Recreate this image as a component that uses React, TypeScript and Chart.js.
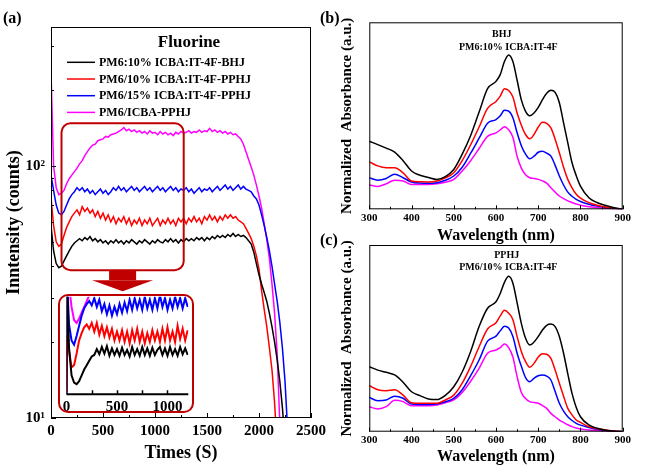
import React, { useEffect, useRef } from 'react';
import { Chart, registerables } from 'chart.js';

Chart.register(...registerables);

const SERIF = "'Liberation Serif', 'Times New Roman', Times, serif";
const COLORS = ['#000000', '#ff0000', '#0000ff', '#ff00ff'];
const DARK_RED = '#c00000';

// ---------- Panel (a): PL intensity vs time ----------
const seriesLabels = [
  'PM6:10% ICBA:IT-4F-BHJ',
  'PM6/10% ICBA:IT-4F-PPHJ',
  'PM6/15% ICBA:IT-4F-PPHJ',
  'PM6/ICBA-PPHJ',
];
const legendTitle = 'Fluorine';

const timeS = [
  0, 25, 50, 75, 100, 125, 150, 175, 200, 225,
  250, 275, 300, 325, 350, 375, 400, 425, 450, 475,
  500, 525, 550, 575, 600, 625, 650, 675, 700, 725,
  750, 775, 800, 825, 850, 875, 900, 925, 950, 975,
  1000, 1025, 1050, 1075, 1100, 1125, 1150, 1175, 1200, 1225,
  1250, 1275, 1300, 1325, 1350, 1375, 1400, 1425, 1450, 1475,
  1500, 1525, 1550, 1575, 1600, 1625, 1650, 1675, 1700, 1725,
  1750, 1775, 1800, 1825, 1850, 1875, 1900, 1925, 1950, 1975,
  2000, 2025, 2050, 2075, 2100, 2125, 2150, 2175, 2200, 2225,
  2250, 2275, 2300,
];

const bhjCounts = [
  58, 46, 41, 39.5, 40, 42, 44, 46, 48, 49.5,
  50.5, 51.5, 50.5, 52, 51, 52.5, 50.5, 51.5, 50, 51,
  49.5, 50.5, 49, 50.5, 49.5, 51, 49.5, 50.5, 49, 50.5,
  49.5, 51, 50, 49, 50.5, 49.5, 51, 50, 49, 50.5,
  49.5, 51, 50, 49.5, 51, 50, 51.5, 50, 51, 49.5,
  51, 50, 51.5, 50.5, 51.5, 50.5, 52, 51, 52, 50.5,
  52, 51, 52.5, 51.5, 53, 52, 53, 52, 53.5, 52.5,
  54, 52.5, 53.5, 52.5, 53, 52, 50.5, 49, 45.5, 41,
  37, 34, 31.5, 29, 26, 23, 20, 17, 14, 11,
  8, 5, 3,
];

const pphj10Counts = [
  75, 58, 50, 48, 49, 53, 57, 60, 63, 65,
  67, 64, 69, 66, 68, 65, 67, 63, 66, 62,
  65, 61, 64, 60, 63, 59, 62, 60, 63, 59,
  62, 58, 61, 59, 62, 58, 61, 59, 62, 58,
  60, 62, 58, 61, 59, 62, 59, 61, 58, 62,
  60, 62, 59, 62, 60, 63, 60, 62, 59, 63,
  61, 64, 61, 63, 60, 63, 61, 64, 62, 64,
  62, 63, 61, 60, 59, 56.5, 54, 51.5, 48, 44,
  39, 32, 27, 23, 19, 15.5, 11.5, 7.5, 4, 2,
  1.5, 1, 1,
];

const pphj15Counts = [
  92, 80, 70, 65, 64, 66, 70, 74, 77, 79,
  82, 80, 82, 79, 81, 78, 80, 77, 79, 81,
  78, 80, 77, 79, 82, 80, 83, 80, 82, 79,
  81, 83, 80, 82, 79, 81, 83, 80, 82, 79,
  81, 83, 80, 82, 79, 81, 83, 80, 82, 79,
  81, 80, 82, 79, 81, 78, 80, 82, 79, 81,
  80, 82, 79, 81, 83, 80, 82, 84, 81, 83,
  80, 82, 84, 81, 83, 81, 80, 79, 76, 74,
  70, 64, 58, 52, 46, 40, 34, 29, 24, 19,
  14, 9, 4,
];

const icbaCounts = [
  236, 100, 82, 77, 78, 80, 85, 89, 92, 95,
  98, 102, 105, 110, 114, 118, 121, 122, 126, 127,
  128, 131, 130, 133, 134, 135, 137, 139, 142, 138,
  140, 137, 139, 136, 138, 135, 137, 134, 138, 135,
  136, 133, 137, 134, 136, 133, 135, 132, 136, 134,
  137, 135, 136, 138, 135, 137, 136, 139, 136, 138,
  137, 141, 137, 139, 136, 138, 135, 137, 134, 136,
  133, 134, 131, 128, 122, 114, 106, 99, 92, 84,
  76, 68, 59, 51, 43, 34, 26, 18, 9.5, 4,
  2, 1.5, 1,
];

const timeTicks = [0, 500, 1000, 1500, 2000, 2500];
const timeMinorTicks = [250, 750, 1250, 1750, 2250];
const countTicks = [10, 100];
const countMinorTicks = [20, 30, 40, 50, 60, 70, 80, 90, 200, 300];
const zoomWindowTime = [101, 1276];
const zoomWindowCounts = [38.6, 147.6];

// ---------- Inset: first 1200 s, linear scale ----------
const insetTimeS = [
  0, 5, 25, 50, 75, 100, 125, 150, 175, 200, 225, 250,
  275, 300, 325, 350, 375, 400, 425, 450, 475, 500,
  525, 550, 575, 600, 625, 650, 675, 700, 725, 750,
  775, 800, 825, 850, 875, 900, 925, 950, 975, 1000,
  1025, 1050, 1075, 1100, 1125, 1150, 1175, 1200,
];
const insetBhj = [
  15, 100, 52, 33, 28, 27, 29, 33, 37, 40, 43, 46,
  47, 51, 47.5, 52.5, 48, 53, 46.5, 51.5, 47, 51,
  46.5, 52, 47, 50.5, 46, 52.5, 47, 51, 46.5, 52.5,
  47, 51.5, 46.5, 52, 47, 50.5, 52.5, 47, 51.5, 46.5,
  52.5, 47, 51, 46.5, 52.5, 47.5, 51.5, 47,
];
const insetPphj10 = [
  22, 60, 50, 38.5, 40, 48, 57, 62, 66, 68, 65, 69,
  63, 69, 61, 67, 60, 66, 59, 65, 57, 63,
  57, 64, 56, 63, 55, 64, 57, 65, 56, 63,
  55, 62, 56, 64, 57, 63, 56, 65, 57, 66,
  57, 63, 56, 67, 58, 65, 57, 64,
];
const insetPphj15 = [
  18, 100, 68, 57, 54, 60, 67, 74, 79, 82, 84, 81,
  86, 80, 85, 77, 82, 75, 81, 74, 80, 75,
  82, 76, 83, 77, 85, 78, 86, 79, 85, 78,
  87, 79, 85, 78, 86, 79, 88, 80, 86, 78,
  85, 79, 87, 80, 86, 79, 86, 80,
];
const insetIcbaTimeS = [5, 25, 50, 75, 100, 125, 150, 175, 200, 225, 250, 275, 300];
const insetIcba = [120, 95, 80, 71, 69, 72, 76, 80, 84, 88, 92, 96, 100];
const insetLabelTicks = [0, 500, 1000];
const insetTicks = [250, 500, 750, 1000];

// ---------- Panels (b), (c): absorbance spectra ----------
const wavelengthNm = [
  300, 320, 340, 360, 380, 400, 420, 440, 460, 480,
  500, 520, 540, 560, 580, 600, 610, 620, 630, 640,
  650, 660, 670, 680, 690, 700, 710, 720, 730, 740,
  750, 760, 770, 780, 790, 800, 820, 840, 860, 880, 900,
];
const waveTicks = [300, 400, 500, 600, 700, 800, 900];
const waveMinorTicks = [350, 450, 550, 650, 750, 850];

const bhjAbsBlack = [
  0.364, 0.346, 0.327, 0.306, 0.26, 0.205, 0.182, 0.17, 0.16, 0.175,
  0.213, 0.295, 0.395, 0.52, 0.645, 0.684, 0.72, 0.79, 0.825, 0.79,
  0.69, 0.585, 0.524, 0.5, 0.515, 0.545, 0.586, 0.62, 0.636, 0.625,
  0.57, 0.462, 0.355, 0.249, 0.18, 0.124, 0.062, 0.035, 0.02, 0.008, 0,
];
const bhjAbsRed = [
  0.254, 0.232, 0.222, 0.222, 0.195, 0.151, 0.147, 0.146, 0.151, 0.168,
  0.195, 0.26, 0.345, 0.44, 0.54, 0.577, 0.605, 0.645, 0.635, 0.6,
  0.515, 0.45, 0.4, 0.377, 0.4, 0.44, 0.465, 0.46, 0.435, 0.375,
  0.302, 0.225, 0.16, 0.115, 0.08, 0.06, 0.036, 0.022, 0.012, 0.005, 0,
];
const bhjAbsBlue = [
  0.169, 0.156, 0.165, 0.188, 0.169, 0.146, 0.14, 0.139, 0.142, 0.155,
  0.178, 0.225, 0.3, 0.38, 0.46, 0.48, 0.5, 0.53, 0.525, 0.49,
  0.409, 0.34, 0.295, 0.27, 0.284, 0.305, 0.311, 0.3, 0.284, 0.235,
  0.178, 0.13, 0.092, 0.07, 0.053, 0.042, 0.027, 0.017, 0.01, 0.004, 0,
];
const bhjAbsPink = [
  0.13, 0.122, 0.137, 0.155, 0.151, 0.133, 0.133, 0.133, 0.137, 0.145,
  0.16, 0.205, 0.26, 0.325, 0.39, 0.409, 0.424, 0.442, 0.425, 0.385,
  0.284, 0.22, 0.185, 0.169, 0.165, 0.16, 0.152, 0.14, 0.115, 0.092,
  0.071, 0.057, 0.045, 0.036, 0.028, 0.022, 0.014, 0.009, 0.005, 0.002, 0,
];

const pphjAbsBlack = [
  0.348, 0.33, 0.318, 0.304, 0.265, 0.214, 0.193, 0.175, 0.172, 0.195,
  0.241, 0.32, 0.43, 0.563, 0.661, 0.696, 0.74, 0.8, 0.832, 0.795,
  0.69, 0.58, 0.5, 0.464, 0.48, 0.51, 0.545, 0.57, 0.577, 0.563,
  0.51, 0.42, 0.31, 0.205, 0.13, 0.08, 0.036, 0.018, 0.008, 0.003, 0,
];
const pphjAbsRed = [
  0.246, 0.225, 0.22, 0.225, 0.196, 0.155, 0.152, 0.152, 0.152, 0.17,
  0.196, 0.26, 0.35, 0.455, 0.55, 0.584, 0.62, 0.65, 0.635, 0.6,
  0.509, 0.43, 0.375, 0.345, 0.366, 0.4, 0.418, 0.415, 0.393, 0.33,
  0.259, 0.19, 0.125, 0.09, 0.0625, 0.05, 0.027, 0.016, 0.009, 0.004, 0,
];
const pphjAbsBlue = [
  0.184, 0.166, 0.17, 0.19, 0.179, 0.148, 0.146, 0.146, 0.148, 0.16,
  0.179, 0.225, 0.3, 0.384, 0.485, 0.512, 0.54, 0.565, 0.555, 0.51,
  0.42, 0.35, 0.29, 0.268, 0.286, 0.3, 0.304, 0.298, 0.277, 0.215,
  0.152, 0.11, 0.08, 0.06, 0.045, 0.035, 0.023, 0.013, 0.007, 0.003, 0,
];
const pphjAbsPink = [
  0.134, 0.122, 0.134, 0.168, 0.161, 0.139, 0.139, 0.139, 0.143, 0.155,
  0.17, 0.21, 0.27, 0.339, 0.42, 0.4375, 0.45, 0.47, 0.45, 0.4,
  0.295, 0.21, 0.178, 0.161, 0.156, 0.152, 0.14, 0.125, 0.098, 0.08,
  0.0625, 0.05, 0.037, 0.027, 0.02, 0.015, 0.009, 0.006, 0.004, 0.002, 0,
];

// ---------- helpers ----------
const toXY = (xs: number[], ys: (number | null)[]) => xs.map((x, i) => ({ x, y: ys[i] }));
const boldFont = (size: number) => ({ family: SERIF, size, weight: 'bold' as const });
const plainNumber = (v: any) => String(Math.round(Number(v)));
const fixedTicks = (vals: number[]) => (s: any) => {
  s.ticks = vals.map((value) => ({ value }));
};

function roundRectPath(ctx: CanvasRenderingContext2D, x: number, y: number, w: number, h: number, r: number) {
  ctx.beginPath();
  ctx.moveTo(x + r, y);
  ctx.lineTo(x + w - r, y);
  ctx.arcTo(x + w, y, x + w, y + r, r);
  ctx.lineTo(x + w, y + h - r);
  ctx.arcTo(x + w, y + h, x + w - r, y + h, r);
  ctx.lineTo(x + r, y + h);
  ctx.arcTo(x, y + h, x, y + h - r, r);
  ctx.lineTo(x, y + r);
  ctx.arcTo(x, y, x + r, y, r);
  ctx.closePath();
}

// ---------- configs ----------
const mainDecor = {
  id: 'mainDecor',
  afterDatasetsDraw(chart: any) {
    const { ctx, chartArea: a } = chart;
    const xs = chart.scales.x;
    const ys = chart.scales.y;
    ctx.save();
    ctx.strokeStyle = '#000';
    ctx.lineWidth = 1;
    ctx.strokeRect(a.left + 0.5, a.top + 0.5, a.right - a.left - 1, a.bottom - a.top - 1);
    ctx.beginPath();
    const xTick = (v: number, len: number) => {
      const p = Math.round(xs.getPixelForValue(v)) + 0.5;
      ctx.moveTo(p, a.bottom);
      ctx.lineTo(p, a.bottom - len);
    };
    const yTick = (v: number, len: number) => {
      const p = Math.round(ys.getPixelForValue(v)) + 0.5;
      ctx.moveTo(a.left, p);
      ctx.lineTo(a.left + len, p);
    };
    timeTicks.forEach((v) => xTick(v, 5));
    timeMinorTicks.forEach((v) => xTick(v, 3));
    countTicks.forEach((v) => yTick(v, 5));
    countMinorTicks.forEach((v) => yTick(v, 3));
    ctx.stroke();

    // highlighted window + arrow
    const x1 = xs.getPixelForValue(zoomWindowTime[0]);
    const x2 = xs.getPixelForValue(zoomWindowTime[1]);
    const y1 = ys.getPixelForValue(zoomWindowCounts[1]);
    const y2 = ys.getPixelForValue(zoomWindowCounts[0]);
    ctx.strokeStyle = DARK_RED;
    ctx.lineWidth = 2;
    roundRectPath(ctx, x1, y1, x2 - x1, y2 - y1, 9);
    ctx.stroke();
    const cx = (x1 + x2) / 2;
    ctx.fillStyle = DARK_RED;
    ctx.fillRect(cx - 13.5, y2, 27, 10);
    ctx.beginPath();
    ctx.moveTo(cx - 30.5, y2 + 10);
    ctx.lineTo(cx + 30.5, y2 + 10);
    ctx.lineTo(cx, y2 + 21);
    ctx.closePath();
    ctx.fill();

    // legend
    ctx.fillStyle = '#000';
    ctx.textBaseline = 'middle';
    ctx.textAlign = 'center';
    ctx.font = `bold 17px ${SERIF}`;
    ctx.fillText(legendTitle, 189, 43);
    ctx.textAlign = 'left';
    ctx.font = `bold 12px ${SERIF}`;
    chart.data.datasets.forEach((d: any, i: number) => {
      const yy = 62.3 + i * 16.7;
      ctx.strokeStyle = d.borderColor;
      ctx.lineWidth = 1.5;
      ctx.beginPath();
      ctx.moveTo(67, yy);
      ctx.lineTo(95, yy);
      ctx.stroke();
      ctx.fillText(d.label, 99, yy + 0.5);
    });
    ctx.font = `bold 16px ${SERIF}`;
    ctx.fillText('(a)', 3, 19);
    ctx.restore();
  },
};

function mainConfig(): any {
  const series = [bhjCounts, pphj10Counts, pphj15Counts, icbaCounts];
  return {
    type: 'line',
    data: {
      datasets: series.map((vals, i) => ({
        label: seriesLabels[i],
        data: toXY(timeS, vals),
        borderColor: COLORS[i],
        borderWidth: 1.5,
        pointRadius: 0,
        tension: 0,
      })),
    },
    options: {
      responsive: false,
      animation: false,
      layout: { padding: { left: 0, top: 27, right: 15, bottom: 0 } },
      plugins: { legend: { display: false }, tooltip: { enabled: false } },
      scales: {
        x: {
          type: 'linear',
          min: 0,
          max: 2500,
          grid: { display: false, drawTicks: false },
          border: { display: false },
          afterBuildTicks: fixedTicks(timeTicks),
          ticks: { padding: 4, maxRotation: 0, autoSkip: false, color: '#000', font: boldFont(15), callback: plainNumber },
          title: { display: true, text: 'Times (S)', color: '#000', font: boldFont(18), padding: { top: 0, bottom: 10 } },
          afterFit: (s: any) => { s.height = 56; },
        },
        y: {
          type: 'logarithmic',
          min: 10,
          max: 356,
          grid: { display: false, drawTicks: false },
          border: { display: false },
          afterBuildTicks: fixedTicks(countTicks),
          ticks: {
            padding: 6,
            autoSkip: false,
            color: '#000',
            font: boldFont(15),
            callback: (v: any) => (Number(v) === 10 ? '10\u00b9' : Number(v) === 100 ? '10\u00b2' : ''),
          },
          title: { display: true, text: 'Inntensity (counts)', color: '#000', font: boldFont(18), padding: { top: 3.4, bottom: 0 } },
          afterFit: (s: any) => { s.width = 51; },
        },
      },
    },
    plugins: [mainDecor],
  };
}

const insetDecor = {
  id: 'insetDecor',
  beforeDraw(chart: any) {
    const { ctx, width, height } = chart;
    ctx.save();
    ctx.fillStyle = '#fff';
    roundRectPath(ctx, 1, 1, width - 2, height - 2, 9);
    ctx.fill();
    ctx.restore();
  },
  afterDraw(chart: any) {
    const { ctx, width, height, chartArea: a } = chart;
    const xs = chart.scales.x;
    ctx.save();
    ctx.strokeStyle = '#000';
    ctx.lineWidth = 2;
    ctx.beginPath();
    ctx.moveTo(a.left, a.bottom);
    ctx.lineTo(a.right, a.bottom);
    ctx.stroke();
    ctx.lineWidth = 1.5;
    ctx.beginPath();
    insetTicks.forEach((v) => {
      const p = Math.round(xs.getPixelForValue(v)) + 0.5;
      ctx.moveTo(p, a.bottom);
      ctx.lineTo(p, a.bottom - 4);
    });
    ctx.stroke();
    ctx.strokeStyle = DARK_RED;
    ctx.lineWidth = 2;
    roundRectPath(ctx, 1, 1, width - 2, height - 2, 9);
    ctx.stroke();
    ctx.restore();
  },
};

function insetConfig(): any {
  const mk = (xs: number[], ys: number[], c: string) => ({
    data: toXY(xs, ys),
    borderColor: c,
    borderWidth: 2,
    pointRadius: 0,
    tension: 0,
  });
  return {
    type: 'line',
    data: {
      datasets: [
        mk(insetTimeS, insetBhj, COLORS[0]),
        mk(insetTimeS, insetPphj10, COLORS[1]),
        mk(insetTimeS, insetPphj15, COLORS[2]),
        mk(insetIcbaTimeS, insetIcba, COLORS[3]),
      ],
    },
    options: {
      responsive: false,
      animation: false,
      layout: { padding: { left: 8.5, top: 2.7, right: 5.7, bottom: 0 } },
      plugins: { legend: { display: false }, tooltip: { enabled: false } },
      scales: {
        x: {
          type: 'linear',
          min: 0,
          max: 1206,
          grid: { display: false, drawTicks: false },
          border: { display: false },
          afterBuildTicks: fixedTicks(insetLabelTicks),
          ticks: {
            padding: 3.7,
            maxRotation: 0,
            autoSkip: false,
            color: '#000',
            font: boldFont(15),
            callback: plainNumber,
          },
          afterFit: (s: any) => { s.height = 18.7; },
        },
        y: { display: false, min: 20, max: 87 },
      },
    },
    plugins: [insetDecor],
  };
}

function spectraDecor(lines: string[], lineXs: number[], lineYs: number[], panel: string, panelY: number) {
  return {
    id: 'spectraDecor',
    afterDatasetsDraw(chart: any) {
      const { ctx, chartArea: a } = chart;
      const xs = chart.scales.x;
      ctx.save();
      ctx.strokeStyle = '#000';
      ctx.lineWidth = 1;
      ctx.strokeRect(a.left + 0.5, a.top + 0.5, a.right - a.left - 1, a.bottom - a.top - 1);
      ctx.beginPath();
      const tick = (v: number, len: number) => {
        const p = Math.round(xs.getPixelForValue(v)) + 0.5;
        ctx.moveTo(p, a.bottom);
        ctx.lineTo(p, a.bottom - len);
      };
      waveTicks.forEach((v) => tick(v, 4));
      waveMinorTicks.forEach((v) => tick(v, 2.5));
      ctx.stroke();
      ctx.fillStyle = '#000';
      ctx.textBaseline = 'middle';
      ctx.textAlign = 'center';
      ctx.font = `bold 10px ${SERIF}`;
      lines.forEach((t, i) => ctx.fillText(t, lineXs[i], lineYs[i]));
      ctx.textAlign = 'left';
      ctx.font = `bold 16px ${SERIF}`;
      ctx.fillText(panel, 0, panelY);
      ctx.restore();
    },
  };
}

function spectraConfig(series: number[][], top: number, xAxisH: number, titlePad: number, plugin: any): any {
  return {
    type: 'line',
    data: {
      datasets: series.map((vals, i) => ({
        data: toXY(wavelengthNm, vals),
        borderColor: COLORS[i],
        borderWidth: 1.5,
        pointRadius: 0,
        cubicInterpolationMode: 'monotone',
      })),
    },
    options: {
      responsive: false,
      animation: false,
      layout: { padding: { left: 0, top, right: 31.3, bottom: 0 } },
      plugins: { legend: { display: false }, tooltip: { enabled: false } },
      scales: {
        x: {
          type: 'linear',
          min: 300,
          max: 900,
          grid: { display: false, drawTicks: false },
          border: { display: false },
          afterBuildTicks: fixedTicks(waveTicks),
          ticks: { padding: 2, maxRotation: 0, autoSkip: false, color: '#000', font: boldFont(11), callback: plainNumber },
          title: { display: true, text: 'Wavelength (nm)', color: '#000', font: boldFont(16), padding: { top: 0, bottom: titlePad } },
          afterFit: (s: any) => { s.height = xAxisH; },
        },
        y: {
          min: 0,
          max: 1,
          grid: { display: false, drawTicks: false },
          border: { display: false },
          ticks: { display: false },
          title: { display: true, text: 'Normalized  Absorbance (a.u.)', color: '#000', font: boldFont(15), padding: { top: 18, bottom: 0 } },
          afterFit: (s: any) => { s.width = 49.3; },
        },
      },
    },
    plugins: [plugin],
  };
}

function ChartCanvas({ make, left, top, width, height }: { make: () => any; left: number; top: number; width: number; height: number }) {
  const ref = useRef<HTMLCanvasElement | null>(null);
  useEffect(() => {
    if (!ref.current) return;
    const chart = new Chart(ref.current, make());
    return () => chart.destroy();
  }, []);
  return (
    <canvas
      ref={ref}
      width={width}
      height={height}
      style={{ position: 'absolute', left, top, width, height }}
    />
  );
}

export default function App() {
  return (
    <div style={{ position: 'fixed', left: 0, top: 0, width: 654, height: 474, background: '#fff', overflow: 'hidden' }}>
      <ChartCanvas make={mainConfig} left={0} top={0} width={330} height={474} />
      <ChartCanvas make={insetConfig} left={58} top={294} width={136} height={119} />
      <ChartCanvas
        make={() =>
          spectraConfig(
            [bhjAbsBlack, bhjAbsRed, bhjAbsBlue, bhjAbsPink],
            22.3,
            40.7,
            4.4,
            spectraDecor(['BHJ', 'PM6:10% ICBA:IT-4F'], [181.7, 188.3], [34.3, 47.7], '(b)', 19),
          )
        }
        left={320}
        top={0}
        width={334}
        height={250}
      />
      <ChartCanvas
        make={() =>
          spectraConfig(
            [pphjAbsBlack, pphjAbsRed, pphjAbsBlue, pphjAbsPink],
            13,
            42.3,
            7.1,
            spectraDecor(['PPHJ', 'PM6/10% ICBA:IT-4F'], [186.7, 188.3], [23, 35.3], '(c)', 9),
          )
        }
        left={320}
        top={232}
        width={334}
        height={242}
      />
    </div>
  );
}
